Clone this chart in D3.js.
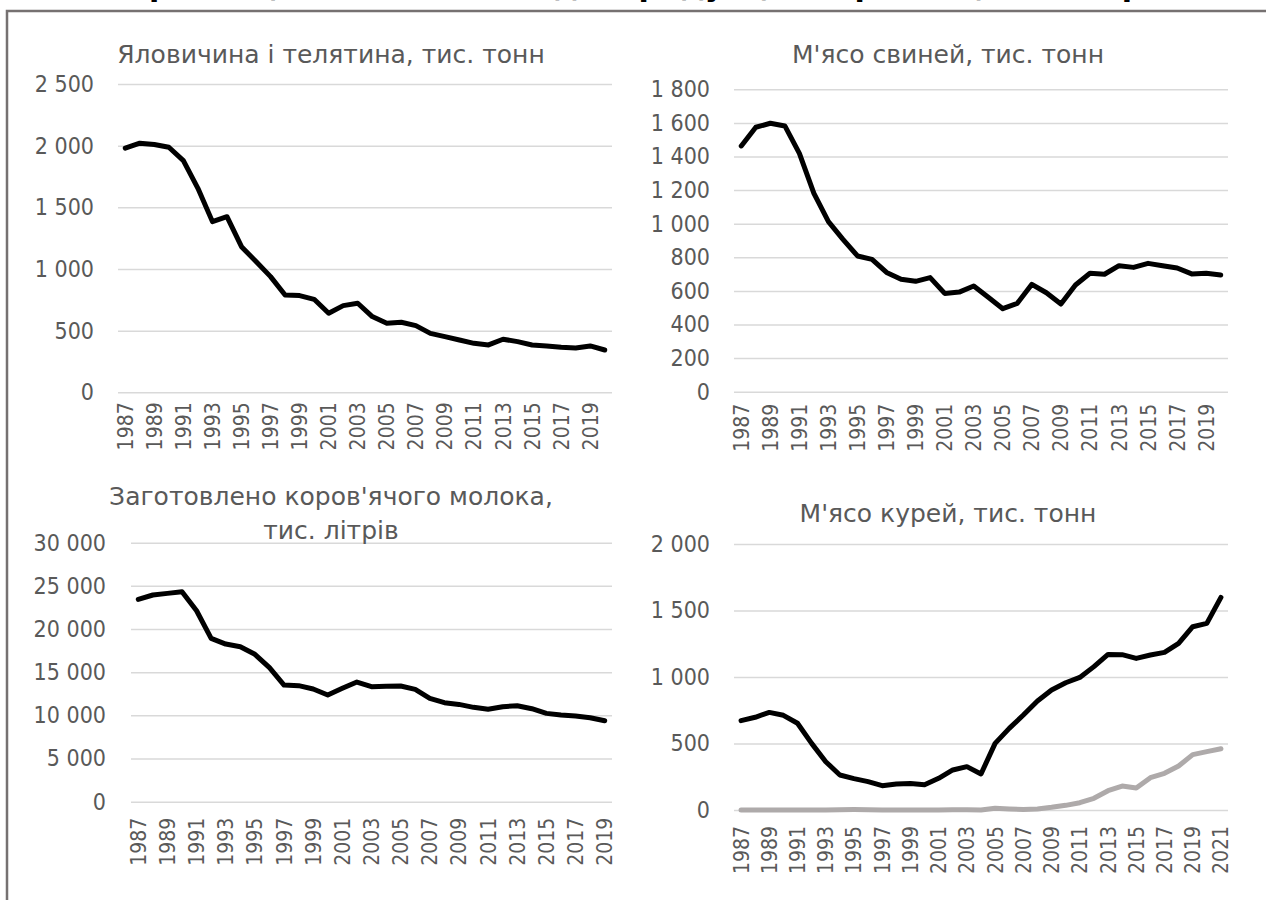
<!DOCTYPE html>
<html><head><meta charset="utf-8">
<script src="https://cdn.jsdelivr.net/npm/d3@7"></script>
<style>
html,body{margin:0;padding:0;background:#fff;overflow:hidden}
svg{display:block}
</style></head>
<body>
<svg id="chart" width="1266" height="900"></svg>
<script>
// ---------- DATA ----------
const mainTitle = "Виробництво основних видів продукції тваринництва в Україні";

const yearsBeef = ["1987","1988","1989","1990","1991","1992","1993","1994","1995","1996","1997","1998","1999","2000","2001","2002","2003","2004","2005","2006","2007","2008","2009","2010","2011","2012","2013","2014","2015","2016","2017","2018","2019","2020"];
const beef = [1980,2020,2010,1987,1879,1654,1384,1424,1181,1060,938,789,784,754,641,703,722,614,560,568,541,478,451,424,397,384,430,411,384,376,365,360,376,343];

const yearsPork = yearsBeef;
const pork = [1463,1574,1598,1582,1419,1181,1012,907,808,788,710,669,657,679,585,593,629,562,494,526,639,589,522,635,705,699,750,740,764,750,736,701,705,695];

const yearsMilk = ["1987","1988","1989","1990","1991","1992","1993","1994","1995","1996","1997","1998","1999","2000","2001","2002","2003","2004","2005","2006","2007","2008","2009","2010","2011","2012","2013","2014","2015","2016","2017","2018","2019"];
const milk = [23440,23940,24130,24320,22120,18920,18260,17950,17070,15520,13510,13440,13050,12360,13130,13860,13320,13360,13400,13010,11970,11470,11270,10930,10700,11000,11120,10770,10230,10040,9920,9730,9380];

const yearsChicken = ["1987","1988","1989","1990","1991","1992","1993","1994","1995","1996","1997","1998","1999","2000","2001","2002","2003","2004","2005","2006","2007","2008","2009","2010","2011","2012","2013","2014","2015","2016","2017","2018","2019","2020","2021"];
const chickenA = [672,697,734,712,652,501,363,263,236,213,183,195,200,190,238,301,326,271,501,614,714,819,902,957,997,1078,1170,1168,1140,1165,1185,1253,1378,1403,1599];
const chickenB = [0,0,0,0,0,0,0,2,3,2,0,0,0,0,0,1,1,0,13,8,3,8,20,35,55,88,145,180,165,243,276,331,416,439,461];

const ticksBeef = [0,500,1000,1500,2000,2500];
const ticksPork = [0,200,400,600,800,1000,1200,1400,1600,1800];
const ticksMilk = [0,5000,10000,15000,20000,25000,30000];
const ticksChicken = [0,500,1000,1500,2000];

const titleBeef = ["Яловичина і телятина, тис. тонн"];
const titlePork = ["М'ясо свиней, тис. тонн"];
const titleMilk = ["Заготовлено коров'ячого молока,", "тис. літрів"];
const titleChicken = ["М'ясо курей, тис. тонн"];

// ---------- DRAW ----------
const svg = d3.select("#chart");
const TXT = "#595959";
const GRID = "#d9d9d9";
const fmt = d3.formatLocale({decimal: ",", thousands: " ", grouping: [3], currency: ["", ""]}).format(",d");

// frame
svg.append("rect").attr("x", 7).attr("y", 11).attr("width", 1400).attr("height", 1000)
  .attr("fill", "none").attr("stroke", "#767171").attr("stroke-width", 2.5);

// top title (mostly cropped in the reference: only descenders show)
svg.append("text").attr("x", 655).attr("y", -4).attr("text-anchor", "middle")
  .attr("font-family", "DejaVu Sans").attr("font-weight", "bold").attr("font-size", 30)
  .attr("fill", "#000").text(mainTitle);

function panel(cfg) {
  const g = svg.append("g");
  const x = d3.scalePoint().domain(cfg.years).range(cfg.xr).padding(0.5);
  const y = d3.scaleLinear().domain([0, cfg.ymax]).range(cfg.yr);

  // gridlines + y labels
  const yAxis = d3.axisLeft(y).tickValues(cfg.ticks).tickFormat(fmt)
    .tickSize(-(cfg.xr[1] - cfg.xr[0])).tickPadding(cfg.xr[0] - cfg.labelRight);
  const ya = g.append("g").attr("transform", `translate(${cfg.xr[0]},0)`).call(yAxis);
  ya.select(".domain").remove();
  ya.selectAll(".tick line").attr("stroke", GRID).attr("stroke-width", 1.5);
  ya.selectAll(".tick text").attr("fill", TXT).attr("font-family", "DejaVu Sans Condensed")
    .attr("font-size", 23);

  // x axis labels
  const xAxis = d3.axisBottom(x).tickValues(cfg.years.filter((d, i) => i % 2 === 0)).tickSize(0).tickPadding(0);
  const xa = g.append("g").attr("transform", `translate(0,${cfg.yr[0]})`).call(xAxis);
  xa.select(".domain").remove();
  xa.selectAll(".tick text")
    .attr("fill", TXT).attr("font-family", "DejaVu Sans Condensed").attr("font-size", 21)
    .attr("text-anchor", "end").attr("dy", null).attr("y", 0)
    .attr("transform", `translate(0,${cfg.xlabGap}) rotate(-90)`)
    .attr("dominant-baseline", "central");

  // lines
  const line = d3.line().x((d, i) => x(cfg.years[i])).y(d => y(d));
  cfg.series.forEach(s => {
    g.append("path").datum(s.values).attr("d", line).attr("fill", "none")
      .attr("stroke", s.color).attr("stroke-width", 5).attr("stroke-linejoin", "round").attr("stroke-linecap", "round");
  });

  // title
  cfg.title.forEach((t, i) => {
    g.append("text").attr("x", cfg.titleX).attr("y", cfg.titleY + i * 34).attr("text-anchor", "middle")
      .attr("font-family", "DejaVu Sans").attr("font-size", 25).attr("fill", TXT).text(t);
  });
}

panel({years: yearsBeef, xr: [118, 612], yr: [392.3, 84], ymax: 2500, ticks: ticksBeef, labelRight: 94,
  series: [{values: beef, color: "#000"}], title: titleBeef, titleX: 331, titleY: 63, xlabGap: 10});
panel({years: yearsPork, xr: [734, 1228], yr: [391.7, 89.3], ymax: 1800, ticks: ticksPork, labelRight: 710,
  series: [{values: pork, color: "#000"}], title: titlePork, titleX: 948, titleY: 63, xlabGap: 12});
panel({years: yearsMilk, xr: [131, 612], yr: [801.7, 542.7], ymax: 30000, ticks: ticksMilk, labelRight: 106,
  series: [{values: milk, color: "#000"}], title: titleMilk, titleX: 331, titleY: 505, xlabGap: 16});
panel({years: yearsChicken, xr: [734, 1228], yr: [810, 544], ymax: 2000, ticks: ticksChicken, labelRight: 710,
  series: [{values: chickenB, color: "#AEAAAA"}, {values: chickenA, color: "#000"}], title: titleChicken, titleX: 948, titleY: 522, xlabGap: 16});
</script>
</body></html>
